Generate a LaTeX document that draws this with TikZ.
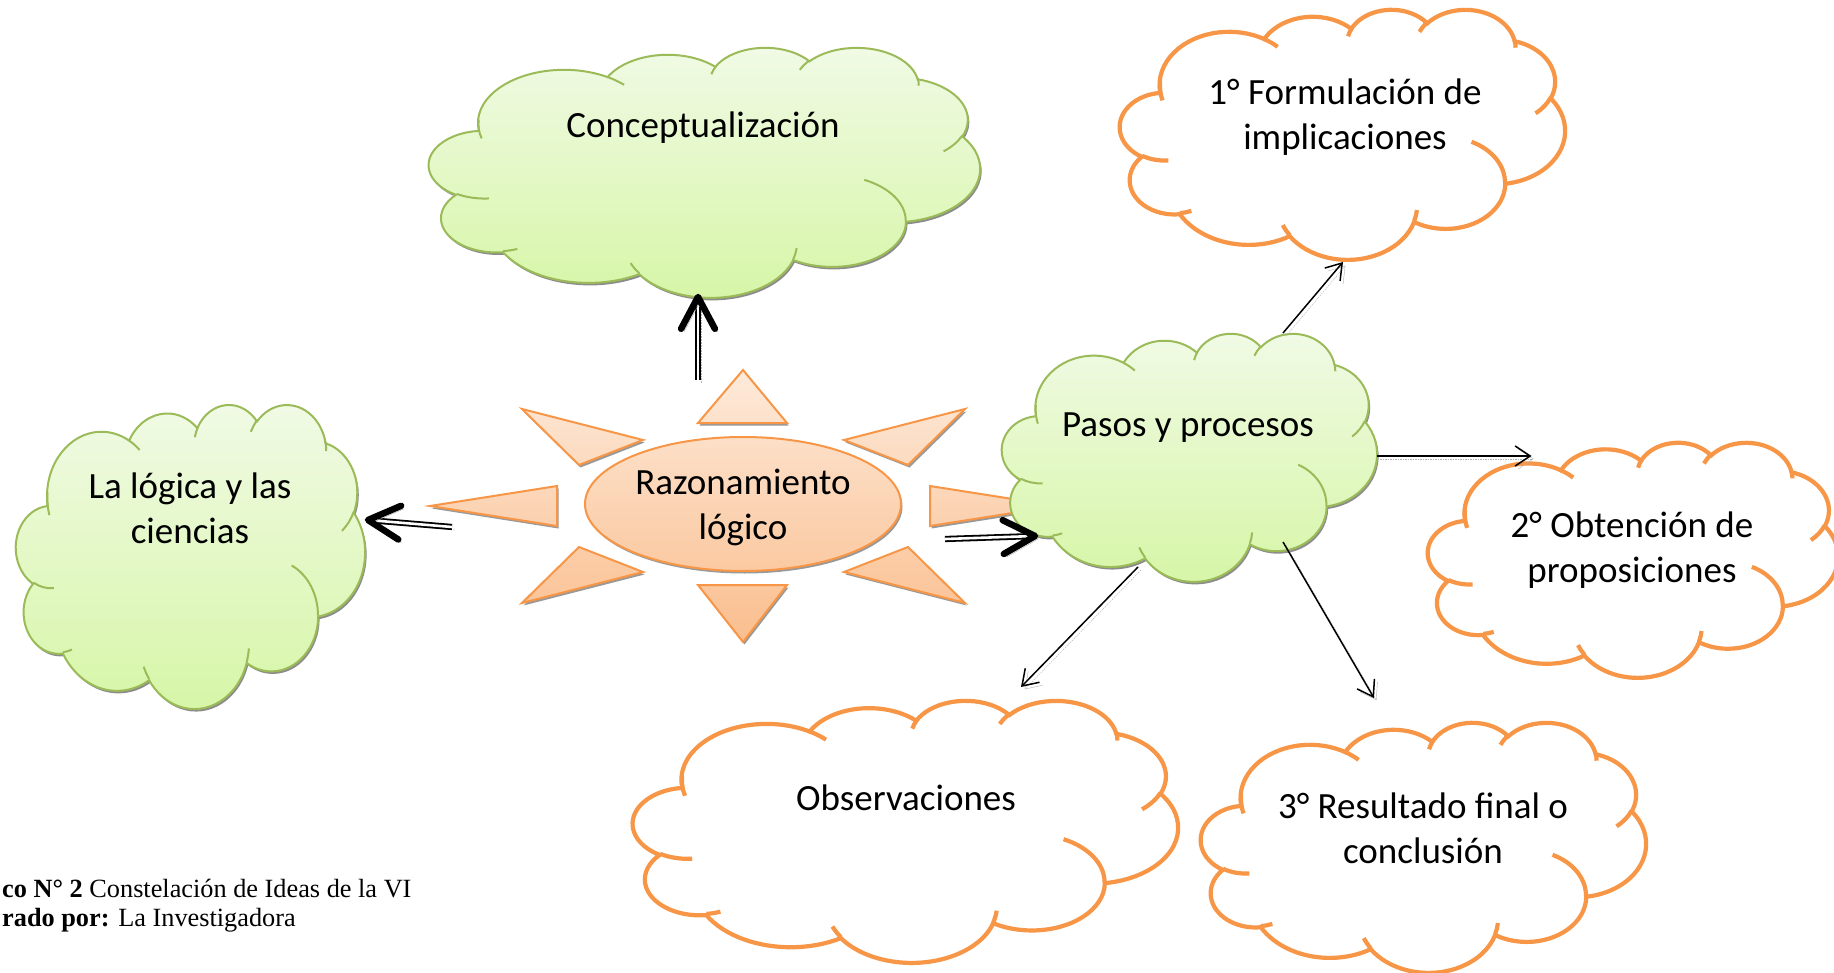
\documentclass[tikz,border=0pt]{standalone}
\usepackage{fontspec}
\setmainfont{Carlito}
\newfontfamily\capfont{Liberation Serif}
\usetikzlibrary{arrows.meta,calc,shapes.geometric}

\definecolor{cloudLine}{HTML}{9BBB59}
\definecolor{cloudTop}{RGB}{241,250,230}
\definecolor{cloudBot}{RGB}{214,246,166}
\definecolor{sunLine}{HTML}{F79646}
\definecolor{sunTop}{RGB}{253,234,218}
\definecolor{sunBot}{RGB}{250,190,142}
\definecolor{puffLine}{HTML}{F79646}

% elliptical arc given by radii and visual start/sweep angles (cloud outline)
\newcommand\cldarc[4]{arc[x radius=#1, y radius=#2,
  start angle={atan2(#1/#2*sin(#3),cos(#3))},
  delta angle={mod(atan2(#1/#2*sin(#3+#4),cos(#3+#4))-atan2(#1/#2*sin(#3),cos(#3))+720,360)}]}

% cloud outline in a 4320 x 4320 box
\newcommand\cloudouter{(390,1437)
  \cldarc{675.3}{919.0}{-190.48748}{123.78053}
  \cldarc{533.3}{726.7}{-144.10238}{89.94523}
  \cldarc{436.5}{594.5}{-145.80792}{99.72302}
  \cldarc{485.7}{659.5}{-130.98607}{117.24173}
  \cldarc{533.3}{727.3}{-78.70888}{109.02692}
  \cldarc{677.5}{922.0}{-46.26725}{130.269}
  \cldarc{578.5}{786.7}{0.62502}{114.03333}
  \cldarc{675.2}{921.5}{22.4516}{115.17255}
  \cldarc{772.0}{1054.3}{66.24263}{75.71102}
  \cldarc{436.0}{591.8}{-274.94208}{146.73557}
  \cldarc{434.5}{594.5}{-246.8285}{152.51885} -- cycle}

% small inner arcs of the cloud
\newcommand\cloudinner{
  (469.3,2617.7) \cldarc{434.5}{594.5}{86.742}{26.4295}
  (692.8,3489.9) \cldarc{436.0}{591.8}{73.61047}{11.44747}
  (1647.8,3909.0) \cldarc{675.2}{921.5}{137.62415}{14.0811}
  (2882.7,3475.1) \cldarc{675.2}{921.5}{6.45327}{15.99835}
  (3412.9,2295.4) \cldarc{578.5}{786.7}{-70.29235}{70.91737}
  (4179.8,1535.4) \cldarc{533.3}{727.3}{30.31803}{27.7515}
  (3832.4,542.6) \cldarc{485.7}{659.5}{-13.74433}{14.8589}
  (2907.8,395.2) \cldarc{485.7}{659.5}{-149.18145}{18.19537}
  (2214.1,472.0) \cldarc{436.5}{594.5}{-163.49427}{17.68635}
  (1400.0,519.2) \cldarc{675.3}{919.0}{-66.70695}{12.31935}
  (412.7,1578.9) \cldarc{675.3}{919.0}{159.00657}{27.28353}}

% #1 name, #2 left, #3 top, #4 width, #5 height
\newcommand\greencloud[5]{%
  \node[cloudbox, minimum width=#4pt, minimum height=#5pt] (#1) at ({#2+#4/2},{#3+#5/2}) {};
  \begin{scope}[shift={(#2,#3)}, x={({#4/4320*1pt},0pt)}, y={(0pt,{-#5/4320*1pt})}]
    \fill[cloudshadow] \cloudouter;
    \path[greenfill] \cloudouter;
    \draw[greenline] \cloudinner;
  \end{scope}}
\newcommand\orangecloud[5]{%
  \node[cloudbox, minimum width=#4pt, minimum height=#5pt] (#1) at ({#2+#4/2},{#3+#5/2}) {};
  \begin{scope}[shift={(#2,#3)}, x={({#4/4320*1pt},0pt)}, y={(0pt,{-#5/4320*1pt})}]
    \draw[puffline] \cloudouter;
    \draw[puffline] \cloudinner;
  \end{scope}}

% sun: eight rays and the central ellipse
\newcommand\sunpath{
  (743,370) -- (787,423) -- (698,423) -- cycle
  (698,585) -- (787,585) -- (743,642) -- cycle
  (430,506) -- (557,486) -- (557,526) -- cycle
  (1057,506) -- (930,486) -- (930,526) -- cycle
  (522,409) -- (643,440) -- (579,465) -- cycle
  (965,409) -- (844,440) -- (908,465) -- cycle
  (522,603) -- (643,572) -- (579,547) -- cycle
  (965,603) -- (844,572) -- (908,547) -- cycle
  (743,504) ellipse [x radius=158, y radius=67]}

\tikzset{
  cloudbox/.style={rectangle, draw=none, inner sep=0pt},
  cloudshadow/.style={black!45, transform canvas={shift={(1.5pt,-2.5pt)}}},
  greenfill/.style={top color=cloudTop, bottom color=cloudBot, draw=cloudLine, line width=2pt},
  greenline/.style={draw=cloudLine, line width=2pt},
  puffline/.style={draw=puffLine, line width=4.2pt},
  lbl/.style={font=\fontsize{37}{45}\selectfont, align=center, inner sep=0pt, text=black},
  caption/.style={font=\capfont\fontsize{26.3}{29}\selectfont, inner sep=0pt},
  thinarrow/.style={draw=black, line width=1.5pt, -{Straight Barb[length=15pt,width=20pt]},
    preaction={draw=black!30, densely dotted, transform canvas={shift={(3pt,-3pt)}}}},
  dblshaft/.style={draw=black, line width=1.8pt, double=white, double distance=2.6pt,
    preaction={draw=black!30, densely dotted, transform canvas={shift={(3pt,-3pt)}}}},
  chev/.style={draw=black, line width=6.5pt, line cap=round, line join=round,
    preaction={draw=black!35, transform canvas={shift={(3pt,-3pt)}}}}
}

\begin{document}
\begin{tikzpicture}[x=1pt, y=-1pt]
\fill[white] (0,0) rectangle (1834,973);
\useasboundingbox (0,0) rectangle (1834,973);

% central sun
\fill[black!40, transform canvas={shift={(1.5pt,-2.5pt)}}] \sunpath;
\shade[top color=sunTop, bottom color=sunBot] \sunpath;
\draw[sunLine, line width=2pt, line join=miter] \sunpath;
\node[lbl] (sun) at (743,508) {\strut Razonamiento\\\strut lógico};

% filled clouds
\greencloud{concept}{429}{47}{551}{250}
\greencloud{logic}{16}{404}{349}{304}
\greencloud{pasos}{1002}{333}{375}{248}

% outlined clouds
\orangecloud{form}{1120}{9}{445}{250}
\orangecloud{obt}{1428}{442}{410}{235}
\orangecloud{obs}{633}{700}{545}{262}
\orangecloud{res}{1201}{722}{445}{250}

% cloud labels
\node[lbl] (concept-t) at (703,129) {\strut Conceptualización};
\node[lbl] (logic-t) at (190,512) {\strut La lógica y las\\\strut ciencias};
\node[lbl] (pasos-t) at (1188,427) {\strut Pasos y procesos};
\node[lbl] (form-t) at (1345,118) {\strut 1° Formulación de\\\strut implicaciones};
\node[lbl] (obt-t) at (1632,551) {\strut 2° Obtención de\\\strut proposiciones};
\node[lbl] (obs-t) at (906,801) {\strut Observaciones};
\node[lbl] (res-t) at (1423,832) {\strut 3° Resultado final o\\\strut conclusión};

% connector end points
\coordinate (uA) at ([shift={(-45,-128)}]sun.center);
\coordinate (uB) at ([shift={(-6.5,125)}]concept.center);
\coordinate (lA) at ([shift={(-291,19)}]sun.center);
\coordinate (lB) at ([shift={(177.5,-36)}]logic.center);
\coordinate (rA) at ([shift={(202,31)}]sun.center);
\coordinate (rB) at ([shift={(-154.5,79)}]pasos.center);
\coordinate (a1A) at ([shift={(93.5,-124)}]pasos.center);
\coordinate (a1B) at ([shift={(0.5,128)}]form.center);
\coordinate (a2A) at ([shift={(187.5,-1)}]pasos.center);
\coordinate (a2B) at ([shift={(-101.5,-103.5)}]obt.center);
\coordinate (a3A) at ([shift={(-51.5,110)}]pasos.center);
\coordinate (a3B) at ([shift={(115.5,-144)}]obs.center);
\coordinate (a4A) at ([shift={(93.5,85)}]pasos.center);
\coordinate (a4B) at ([shift={(-49.5,-149)}]res.center);

% heavy double arrows from the sun
\draw[dblshaft] (uA) -- ($(uB)!10pt!(uA)$);
\draw[chev] ($(uB)!36pt!28:(uA)$) -- (uB) -- ($(uB)!36pt!-28:(uA)$);
\draw[dblshaft] (lA) -- ($(lB)!10pt!(lA)$);
\draw[chev] ($(lB)!36pt!28:(lA)$) -- (lB) -- ($(lB)!36pt!-28:(lA)$);
\draw[dblshaft] (rA) -- ($(rB)!10pt!(rA)$);
\draw[chev] ($(rB)!36pt!28:(rA)$) -- (rB) -- ($(rB)!36pt!-28:(rA)$);

% thin arrows from the steps cloud
\draw[thinarrow] (a1A) -- (a1B);
\draw[thinarrow] (a2A) -- (a2B);
\draw[thinarrow] (a3A) -- (a3B);
\draw[thinarrow] (a4A) -- (a4B);

% caption
\node[caption, anchor=base west] (cap1) at (2,897) {\textbf{co N° 2} Constelación de Ideas de la VI};
\node[caption, anchor=base west] (cap2) at (2,926) {\textbf{rado por:} La Investigadora};
\end{tikzpicture}
\end{document}
